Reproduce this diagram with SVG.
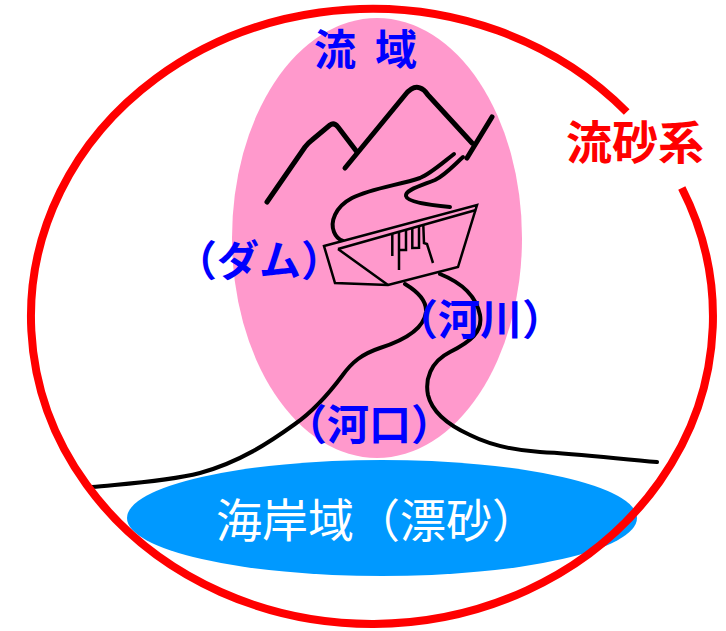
<svg xmlns="http://www.w3.org/2000/svg" width="726" height="631" viewBox="0 0 726 631">
<style>
.t{font-family:"Noto Sans CJK JP","Noto Sans CJK SC",sans-serif}
.blue{fill:#0000FF;font-weight:bold;font-size:42px}
.ln{fill:none;stroke:#000;stroke-linecap:round;stroke-linejoin:round}
.mt{stroke-width:5}
.rv{stroke-width:4}
.dm{stroke-width:2.5;fill:none;stroke:#000;stroke-linejoin:miter}
</style>
<rect width="726" height="631" fill="#fff"/>
<g id="basin">
<ellipse cx="377" cy="238" rx="145" ry="220" fill="#FF99CC"/>
<text class="t blue" x="314" y="65" font-size="42">流</text>
<text class="t blue" x="375" y="65" font-size="42">域</text>
</g>
<g id="coast">
<ellipse cx="382" cy="518" rx="255" ry="58" fill="#0099FF"/>
<text class="t" x="216" y="537" font-size="46" fill="#fff">海岸域（漂砂）</text>
</g>
<g id="connectors">
<path class="ln mt" d="M267,202 L305,147 Q308,143 312,140 L330,125 Q334,122 338,127 L357,152"/>
<path class="ln mt" d="M345,168 L405,95 Q413,85 420,88 Q424,89 428,95 L472,143"/>
<path class="ln mt" d="M492,117 L467,158"/>
<path class="ln rv" d="M454,154 C440,165 430,174 420,178 C400,185 372,188 352,198 C335,207 330,222 334,232 C336,237 340,240 343,241"/>
<path class="ln rv" d="M463,157 C452,167 445,175 435,180 C420,186 405,190 406,196 C407,202 430,205 450,207"/>
<path class="ln rv" d="M405,284 C415,290 427,300 426,312 C424,328 405,340 380,348 C362,354 352,362 342,376 C330,392 315,410 295,424 C270,442 240,462 200,473 C165,482 120,484 92,487"/>
<path class="ln rv" d="M440,274 C460,282 476,295 480,315 C483,332 470,342 450,352 C430,362 425,380 428,395 C432,412 448,425 470,435 C490,445 510,450 540,452 C580,454 620,459 657,462"/>
</g>
<g id="dam">
<path d="M324,246 L477,205 L458,267 L388,285 L335,283 Z" fill="#FF99CC"/>
<path class="dm" d="M324,246 L477,205 L458,267 L388,285 L335,283 Z"/>
<path class="dm" d="M338,249 L476,210 M338,249 L388,285"/>
<path class="dm" d="M392.3,233 L392.3,256 M399,231.5 L399,270 M399,250 L406,250 L406,229.5 M412.3,228 L412.3,248 L419,247.7 L419,226.5 M423.3,225 L424,243 L427,244 L433,263"/>
<text class="t blue" x="175" y="276">（ダム）</text>
</g>
<g id="river">
<text class="t blue" x="396" y="335">（河川）</text>
</g>
<g id="estuary">
<text class="t blue" x="285" y="440">（河口）</text>
</g>
<g id="system">
<path d="M681.8,188 A341,307.5 0 1 1 626.7,112" fill="none" stroke="#FF0000" stroke-width="8"/>
<text class="t" x="566" y="159" font-size="46" font-weight="bold" fill="#FF0000">流砂系</text>
</g>
</svg>
